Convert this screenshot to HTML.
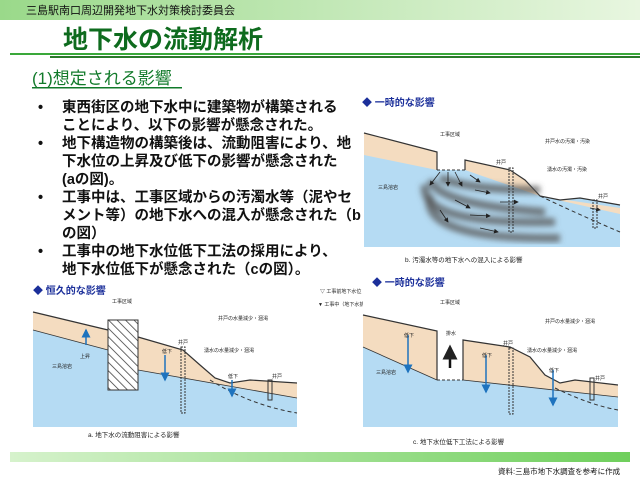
<!DOCTYPE html>
<html><head><meta charset="utf-8"><style>
html,body{margin:0;padding:0;background:#fff;width:640px;height:480px;overflow:hidden}
svg{display:block}
text{font-family:"Liberation Sans","Noto Sans CJK JP",sans-serif}
</style></head><body>
<svg width="640" height="480" viewBox="0 0 640 480" xmlns="http://www.w3.org/2000/svg">
<defs>
<linearGradient id="hg" x1="0" x2="1"><stop offset="0" stop-color="#9ad98a"/><stop offset="1" stop-color="#e8f6e0"/></linearGradient>
<linearGradient id="fg" x1="0" x2="1"><stop offset="0" stop-color="#d6f2cc"/><stop offset="1" stop-color="#6fcf5c"/></linearGradient>
<pattern id="hatch" width="6" height="6" patternUnits="userSpaceOnUse" patternTransform="rotate(-45)"><rect width="6" height="6" fill="#fff"/><line x1="0" y1="0" x2="0" y2="6" stroke="#333" stroke-width="1.5"/></pattern>
<filter id="bl"><feGaussianBlur stdDeviation="3"/></filter>
<marker id="ar" markerWidth="6" markerHeight="6" refX="5" refY="3" orient="auto"><path d="M0,0L6,3L0,6z" fill="#222"/></marker>
<marker id="ab" markerWidth="6" markerHeight="6" refX="5" refY="3" orient="auto"><path d="M0,0L6,3L0,6z" fill="#1e73be"/></marker>
</defs>
<!-- header -->
<rect x="0" y="0" width="640" height="20" fill="url(#hg)"/>
<text x="26" y="14" font-size="11" fill="#111">三島駅南口周辺開発地下水対策検討委員会</text>
<text x="63" y="48" font-size="25" font-weight="bold" fill="#0e6b1e">地下水の流動解析</text>
<rect x="10" y="53" width="630" height="2" fill="#3aa83a"/>
<rect x="50" y="56" width="590" height="2" fill="#2a7a2a"/>
<text x="32" y="84" font-size="17" fill="#117a2a">(1)想定される影響</text>
<rect x="32" y="87" width="150" height="1.5" fill="#117a2a"/>
<!-- bullets -->
<g font-size="14.5" font-weight="bold" fill="#111">
<text x="38" y="112">•</text><text x="62" y="112">東西街区の地下水中に建築物が構築される</text>
<text x="62" y="130">ことにより、以下の影響が懸念された。</text>
<text x="38" y="148">•</text><text x="62" y="148">地下構造物の構築後は、流動阻害により、地</text>
<text x="62" y="166">下水位の上昇及び低下の影響が懸念された</text>
<text x="62" y="184">(aの図)。</text>
<text x="38" y="202">•</text><text x="62" y="202">工事中は、工事区域からの汚濁水等（泥やセ</text>
<text x="62" y="220">メント等）の地下水への混入が懸念された（b</text>
<text x="62" y="238">の図）</text>
<text x="38" y="256">•</text><text x="62" y="256">工事中の地下水位低下工法の採用により、</text>
<text x="62" y="274">地下水位低下が懸念された（cの図）。</text>
</g>
<!-- top right diagram -->
<text x="362" y="106" font-size="10" font-weight="bold" fill="#1b2f9a">◆ 一時的な影響</text>
<rect x="364" y="133" width="256" height="114" fill="#b5dbf3"/>
<polygon points="364,133 437,152 437,170 465,170 465,160 510,170 525,180 540,196 620,208 620,214 540,196 465,170 437,170 364,155" fill="#f4dcc0"/>
<polygon points="364,120 620,120 620,205 580,198 560,200 540,196 525,180 510,170 465,160 465,170 437,170 437,152 364,133" fill="#fff"/>
<polyline points="364,133 437,152 437,170" fill="none" stroke="#333" stroke-width="1.2"/>
<polyline points="465,170 465,160 510,170 525,180 540,196 560,200 580,198 620,205" fill="none" stroke="#333" stroke-width="1.2"/>
<line x1="437" y1="170" x2="465" y2="170" stroke="#333" stroke-dasharray="3,2"/>
<path d="M540,196 Q580,215 620,232" fill="none" stroke="#333" stroke-dasharray="4,3"/>
<g filter="url(#bl)" stroke="#555" stroke-opacity="0.75" fill="none" stroke-width="8">
<path d="M440,178 Q470,190 540,190"/>
<path d="M430,180 Q440,205 545,212"/>
<path d="M425,185 Q420,225 555,222"/>
<path d="M430,195 Q420,240 560,238"/>
</g>
<g stroke="#222" stroke-width="0.8" marker-end="url(#ar)">
<line x1="440" y1="172" x2="430" y2="185"/><line x1="448" y1="172" x2="448" y2="186"/>
<line x1="455" y1="172" x2="462" y2="186"/><line x1="470" y1="175" x2="480" y2="182"/>
<line x1="475" y1="190" x2="490" y2="193"/><line x1="500" y1="202" x2="518" y2="202"/>
<line x1="455" y1="200" x2="470" y2="208"/><line x1="470" y1="215" x2="490" y2="216"/>
<line x1="440" y1="210" x2="448" y2="222"/><line x1="480" y1="228" x2="498" y2="232"/>
<line x1="590" y1="208" x2="600" y2="210"/>
</g>
<rect x="509" y="168" width="4" height="64" fill="none" stroke="#333" stroke-dasharray="2,1"/>
<rect x="593" y="200" width="4" height="28" fill="none" stroke="#333" stroke-dasharray="2,1"/>
<g font-size="5" fill="#222"><text x="440" y="136">工事区域</text><text x="545" y="143">井戸水の汚濁・汚染</text><text x="547" y="171">湧水の汚濁・汚染</text><text x="496" y="164">井戸</text><text x="598" y="198">井戸</text><text x="378" y="189">三島溶岩</text></g>
<text x="405" y="262" font-size="6.5" fill="#222">b. 汚濁水等の地下水への混入による影響</text>
<!-- bottom left -->
<text x="33" y="294" font-size="10" font-weight="bold" fill="#1b2f9a">◆ 恒久的な影響</text>
<rect x="33" y="312" width="264" height="115" fill="#b5dbf3"/>
<polygon points="33,312 108,330 108,350 33,330" fill="#f4dcc0"/>
<polygon points="138,337 183,350 200,365 215,378 230,383 250,380 297,383 297,398 138,370" fill="#f4dcc0"/>
<polygon points="33,300 297,300 297,383 250,380 230,383 215,378 200,365 183,350 138,337 138,320 108,320 108,330 33,312" fill="#fff"/>
<polyline points="33,312 108,330" fill="none" stroke="#333" stroke-width="1.2"/>
<polyline points="138,337 183,350 200,365 215,378 230,383 250,380 297,383" fill="none" stroke="#333" stroke-width="1.2"/>
<polyline points="33,330 108,350" fill="none" stroke="#333" stroke-width="0.8"/>
<polyline points="138,370 297,398" fill="none" stroke="#333" stroke-width="0.8"/>
<path d="M210,380 Q250,405 297,413" fill="none" stroke="#333" stroke-dasharray="4,3"/>
<rect x="108" y="320" width="30" height="70" fill="url(#hatch)" stroke="#333"/>
<g stroke="#1e73be" stroke-width="1.5" marker-end="url(#ab)"><line x1="86" y1="345" x2="86" y2="330"/><line x1="165" y1="355" x2="165" y2="380"/><line x1="232" y1="380" x2="232" y2="396"/></g>
<rect x="181" y="347" width="4" height="66" fill="none" stroke="#333" stroke-dasharray="2,1"/>
<rect x="268" y="380" width="4" height="20" fill="none" stroke="#333"/>
<g font-size="5" fill="#222"><text x="112" y="303">工事区域</text><text x="218" y="320">井戸の水量減少・涸渇</text><text x="204" y="352">湧水の水量減少・涸渇</text><text x="178" y="344">井戸</text><text x="272" y="378">井戸</text><text x="52" y="368">三島溶岩</text><text x="80" y="358">上昇</text><text x="162" y="353">低下</text><text x="228" y="378">低下</text></g>
<text x="88" y="437" font-size="6.5" fill="#222">a. 地下水の流動阻害による影響</text>
<!-- bottom right -->
<text x="372" y="286" font-size="10" font-weight="bold" fill="#1b2f9a">◆ 一時的な影響</text>
<g font-size="5" fill="#222"><text x="320" y="293">▽ 工事前地下水位</text><text x="318" y="306">▼ 工事中（地下水排水中）地下水位</text></g>
<rect x="363" y="315" width="255" height="112" fill="#b5dbf3"/>
<polygon points="363,315 437,331 437,380 363,347" fill="#f4dcc0"/>
<polygon points="463,340 510,347 530,357 545,375 560,383 575,380 618,385 618,397 463,380" fill="#f4dcc0"/>
<polygon points="363,300 618,300 618,385 575,380 560,383 545,375 530,357 510,347 463,340 463,380 437,380 437,331 363,315" fill="#fff"/>
<polyline points="363,315 437,331 437,380" fill="none" stroke="#333" stroke-width="1.2"/>
<polyline points="463,380 463,340 510,347 530,357 545,375 560,383 575,380 618,385" fill="none" stroke="#333" stroke-width="1.2"/>
<polyline points="363,347 437,380" fill="none" stroke="#333" stroke-width="0.8"/>
<polyline points="463,380 618,397" fill="none" stroke="#333" stroke-width="0.8"/>
<line x1="437" y1="380" x2="463" y2="380" stroke="#333" stroke-dasharray="3,2"/>
<path d="M555,388 Q590,405 618,410" fill="none" stroke="#333" stroke-dasharray="4,3"/>
<line x1="450" y1="368" x2="450" y2="347" stroke="#111" stroke-width="2.5" marker-end="url(#ar)"/>
<g stroke="#1e73be" stroke-width="1.5" marker-end="url(#ab)"><line x1="408" y1="335" x2="408" y2="372"/><line x1="486" y1="355" x2="486" y2="392"/><line x1="553" y1="370" x2="553" y2="405"/></g>
<rect x="509" y="348" width="4" height="66" fill="none" stroke="#333" stroke-dasharray="2,1"/>
<rect x="590" y="378" width="4" height="22" fill="none" stroke="#333"/>
<g font-size="5" fill="#222"><text x="440" y="304">工事区域</text><text x="446" y="335">排水</text><text x="545" y="323">井戸の水量減少・涸渇</text><text x="527" y="352">湧水の水量減少・涸渇</text><text x="503" y="345">井戸</text><text x="595" y="380">井戸</text><text x="376" y="374">三島溶岩</text><text x="404" y="337">低下</text><text x="482" y="357">低下</text><text x="549" y="372">低下</text></g>
<text x="413" y="444" font-size="6.5" fill="#222">c. 地下水位低下工法による影響</text>
<!-- footer -->
<rect x="10" y="452" width="620" height="10" fill="url(#fg)"/>
<text x="498" y="474" font-size="7.5" fill="#111">資料:三島市地下水調査を参考に作成</text>
</svg>
</body></html>
